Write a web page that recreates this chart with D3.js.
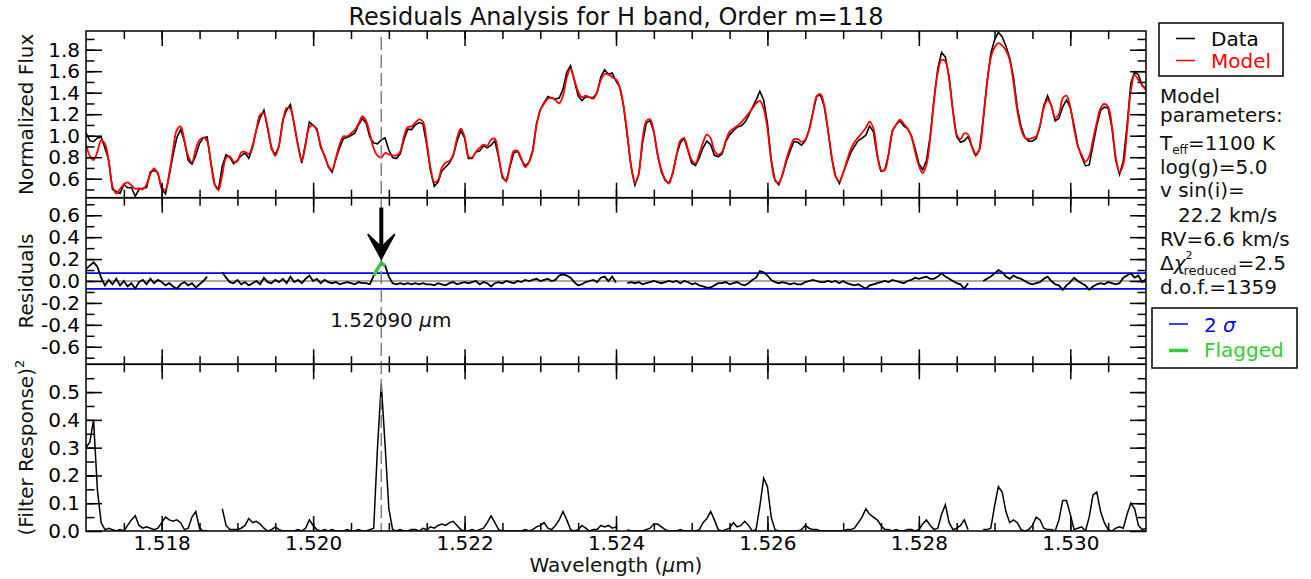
<!DOCTYPE html>
<html>
<head>
<meta charset="utf-8">
<script src="https://cdn.jsdelivr.net/npm/d3@7"></script>
<style>
body{margin:0;background:#fff;}
svg{font-family:"DejaVu Sans",sans-serif;}
</style>
</head>
<body>
<svg id="chart" width="1311" height="579"></svg>
<script>
// wavelength grid of the order (micron)
const waveStart=1.517, waveStep=0.00005;
// model spectrum
const model=[
0.917,0.814,0.774,0.849,0.957,0.926,0.762,0.529,0.461,0.504,
0.548,0.566,0.538,0.507,0.511,0.501,0.548,0.644,0.697,0.644,
0.514,0.498,0.653,0.870,1.053,1.087,0.957,0.811,0.755,0.876,
0.960,0.982,0.948,0.746,0.545,0.498,0.638,0.793,0.808,0.759,
0.762,0.845,0.849,0.830,0.911,1.056,1.196,1.208,1.072,0.895,
0.814,0.914,1.128,1.258,1.249,1.109,0.904,0.765,0.914,1.078,
1.097,1.044,0.911,0.808,0.721,0.680,0.793,0.917,0.994,0.994,
1.022,1.053,1.112,1.180,1.137,1.013,0.883,0.814,0.796,0.839,
0.827,0.817,0.817,0.852,0.994,1.081,1.087,1.121,1.152,1.131,
0.945,0.703,0.569,0.588,0.703,0.749,0.765,0.821,0.979,1.066,
0.991,0.808,0.799,0.849,0.889,0.917,0.907,0.963,0.973,0.808,
0.628,0.576,0.725,0.858,0.858,0.787,0.709,0.752,0.855,1.093,
1.239,1.298,1.345,1.351,1.332,1.301,1.373,1.540,1.621,1.521,
1.410,1.357,1.373,1.357,1.345,1.407,1.518,1.574,1.571,1.543,
1.524,1.450,1.276,1.013,0.718,0.560,0.647,0.963,1.137,1.152,
1.035,0.827,0.681,0.594,0.557,0.659,0.821,0.954,0.976,0.873,
0.774,0.743,0.833,0.938,1.010,0.976,0.858,0.824,0.849,0.954,
1.038,1.066,1.090,1.121,1.162,1.205,1.252,1.301,1.323,1.252,
1.066,0.768,0.591,0.563,0.647,0.780,0.889,0.966,0.969,0.942,
0.963,1.053,1.205,1.366,1.388,1.283,1.050,0.802,0.622,0.576,
0.653,0.768,0.870,0.942,0.985,1.028,1.075,1.131,1.066,0.833,
0.680,0.681,0.833,1.038,1.103,1.149,1.112,1.066,0.994,0.852,
0.721,0.653,0.728,0.976,1.320,1.587,1.704,1.692,1.524,1.230,
1.010,0.969,1.022,1.010,0.901,0.817,0.870,1.152,1.478,1.723,
1.822,1.862,1.841,1.794,1.704,1.493,1.233,1.062,0.982,0.969,
0.979,0.994,1.097,1.258,1.332,1.280,1.168,1.202,1.348,1.373,
1.270,1.066,0.904,0.824,0.759,0.808,0.963,1.124,1.255,1.295,
1.267,1.093,0.802,0.659,0.734,1.047,1.419,1.565,1.518,1.472,
1.422];
// observed spectrum (black)
const flux=[
1.027,0.954,0.944,0.979,0.987,0.886,0.772,0.499,0.481,0.464,
0.548,0.516,0.518,0.437,0.501,0.511,0.518,0.664,0.677,0.654,
0.504,0.458,0.633,0.820,0.983,1.057,0.947,0.771,0.735,0.816,
0.930,0.982,0.988,0.746,0.545,0.498,0.718,0.823,0.798,0.739,
0.772,0.815,0.839,0.790,0.891,1.056,1.166,1.238,1.062,0.875,
0.824,0.904,1.148,1.238,1.289,1.099,0.914,0.745,0.934,1.128,
1.097,1.064,0.891,0.818,0.711,0.660,0.783,0.887,0.974,0.984,
1.002,1.023,1.102,1.160,1.117,0.983,0.933,0.924,0.961,0.979,
0.867,0.797,0.787,0.832,0.964,1.061,1.057,1.101,1.122,1.111,
0.915,0.673,0.529,0.568,0.673,0.709,0.745,0.811,0.949,1.046,
0.981,0.788,0.789,0.849,0.859,0.907,0.887,0.913,0.953,0.798,
0.608,0.576,0.715,0.838,0.858,0.777,0.719,0.752,0.865,1.113,
1.239,1.308,1.365,1.351,1.342,1.351,1.433,1.590,1.651,1.511,
1.370,1.327,1.363,1.357,1.355,1.397,1.548,1.614,1.571,1.583,
1.509,1.450,1.276,0.993,0.708,0.540,0.637,0.933,1.117,1.142,
1.035,0.817,0.661,0.584,0.557,0.649,0.821,0.934,0.976,0.863,
0.744,0.723,0.793,0.888,0.950,0.916,0.818,0.804,0.829,0.944,
1.008,1.046,1.080,1.091,1.122,1.185,1.262,1.331,1.413,1.332,
1.116,0.778,0.581,0.543,0.637,0.760,0.859,0.946,0.939,0.912,
0.953,1.053,1.215,1.366,1.378,1.273,1.050,0.792,0.622,0.556,
0.653,0.748,0.840,0.902,0.955,0.978,1.005,1.091,1.036,0.813,
0.670,0.681,0.823,1.048,1.103,1.139,1.092,1.066,1.004,0.882,
0.741,0.683,0.768,0.996,1.340,1.627,1.774,1.732,1.544,1.230,
0.990,0.939,0.952,0.990,0.901,0.817,0.870,1.152,1.498,1.763,
1.892,1.962,1.921,1.834,1.724,1.543,1.263,1.082,0.982,0.949,
0.949,0.974,1.087,1.278,1.372,1.280,1.138,1.162,1.268,1.333,
1.260,1.096,0.904,0.804,0.719,0.728,0.913,1.094,1.235,1.265,
1.257,1.073,0.772,0.639,0.764,1.097,1.489,1.595,1.568,1.462,
1.442];
// squared matched-filter response, null where pixels are masked
const filterResp=[
0.30,0.32,0.40,0.15,0.03,0.005,0.01,0.005,0.0,0.005,
0.0,0.02,0.04,0.055,0.02,0.01,0.015,0.01,0.005,0.01,
0.03,0.05,0.04,0.035,0.04,0.03,0.005,0.01,0.05,0.07,
0.01,0.0,0.0,null,null,null,0.08,0.02,0.005,0.005,
0.005,0.01,0.02,0.045,0.03,0.035,0.025,0.01,0.0,0.005,
0.015,0.005,0.0,0.0,0.0,0.0,0.005,0.0,0.01,0.04,
0.02,0.005,0.0,0.005,0.0,0.005,0.0,0.0,0.0,0.005,
0.0,0.0,0.005,0.0,0.0,0.005,0.01,0.30,0.53,0.31,
0.08,0.005,0.0,0.005,0.0,0.0,0.005,0.005,0.0,0.01,
0.005,0.015,0.01,0.02,0.025,0.02,0.03,0.035,0.02,0.005,
0.0,0.0,0.005,0.0,0.005,0.01,0.03,0.055,0.03,0.005,
0.0,0.0,0.0,0.0,0.0,0.0,0.005,0.0,0.005,0.015,
0.02,0.03,0.01,0.005,0.02,0.04,0.07,0.04,0.005,0.0,
0.005,0.02,0.01,0.0,0.005,0.005,0.02,0.015,0.02,0.01,
0.015,null,null,0.005,0.0,0.0,0.0,0.0,0.005,0.01,
0.025,0.025,0.015,0.005,0.0,0.0,0.0,0.005,0.0,0.0,
0.0,0.0,0.005,0.03,0.045,0.07,0.04,0.005,0.0,0.005,
0.01,0.03,0.015,0.02,0.035,0.02,0.0,0.005,0.09,0.19,
0.16,0.05,0.005,0.0,0.0,0.0,0.0,0.0,0.0,0.005,
0.02,0.01,0.005,0.005,0.0,0.0,0.0,0.0,0.0,0.0,
0.0,0.005,0.005,0.01,0.03,0.05,0.08,0.06,0.05,0.04,
0.02,0.005,0.005,0.0,0.005,0.0,0.0,0.005,0.005,0.0,
0.005,0.025,0.04,0.02,0.005,0.01,0.06,0.095,0.03,0.005,
0.01,0.02,0.04,0.005,null,null,null,0.005,0.005,0.01,
0.09,0.16,0.14,0.07,0.03,0.04,0.03,0.005,0.0,0.005,
0.02,0.05,0.04,0.01,0.005,0.005,0.0,0.04,0.11,0.11,
0.06,0.005,0.01,0.015,0.0,0.05,0.13,0.14,0.07,0.03,
0.005,0.0,0.01,0.015,0.01,0.06,0.10,0.08,0.02,0.005,
0.01];
const gapRanges=[[1.51865,1.51875],[1.52405,1.52410],[1.52870,1.52880]];
const flagRange=[1.52080,1.52095];
const lineWave=1.5209;
const twoSigma=0.072;
const arrowTop=0.67, arrowTip=0.20;

const waveTicks=[1.518,1.520,1.522,1.524,1.526,1.528,1.530];
const fluxTicks=[0.6,0.8,1.0,1.2,1.4,1.6,1.8];
const residTicks=[-0.6,-0.4,-0.2,0.0,0.2,0.4,0.6];
const filterTicks=[0.0,0.1,0.2,0.3,0.4,0.5];
const waveMinor=d3.range(1.5175,1.5309,0.0005);
const fluxMinor=d3.range(0.5,1.95,0.1);
const residMinor=d3.range(-0.7,0.75,0.1);
const filterMinor=d3.range(0.05,0.6,0.05);

const svg=d3.select("#chart");
const left=86,right=1146;
const p1=[31,197.7],p2=[197.7,364.3],p3=[364.3,531];

const x=d3.scaleLinear().domain([1.517,1.531]).range([left,right]);
const yFlux=d3.scaleLinear().domain([0.4233,1.974]).range([p1[1],p1[0]]);
const yRes=d3.scaleLinear().domain([-0.76,0.76]).range([p2[1],p2[0]]);
const yFil=d3.scaleLinear().domain([0,0.6]).range([p3[1],p3[0]]);

const pts=model.map((m,i)=>({w:waveStart+i*waveStep,m:m,f:flux[i],r:flux[i]-m,q:filterResp[i]}));
const inGap=w=>gapRanges.some(g=>w>g[0]-1e-7&&w<g[1]+1e-7);

const defs=svg.append("defs");
[["c1",p1],["c2",p2],["c3",p3]].forEach(([id,p])=>{
    defs.append("clipPath").attr("id",id).append("rect")
        .attr("x",left).attr("y",p[0]).attr("width",right-left).attr("height",p[1]-p[0]);
});

// top panel: data and model
const g1=svg.append("g").attr("clip-path","url(#c1)");
g1.append("path").datum(pts)
    .attr("fill","none").attr("stroke","#000").attr("stroke-width",1.6)
    .attr("d",d3.line().x(d=>x(d.w)).y(d=>yFlux(d.f)));
g1.append("path").datum(pts)
    .attr("fill","none").attr("stroke","#ff0000").attr("stroke-width",1.8)
    .attr("d",d3.line().x(d=>x(d.w)).y(d=>yFlux(d.m)).curve(d3.curveCatmullRom));

// middle panel: residuals
const g2=svg.append("g").attr("clip-path","url(#c2)");
[twoSigma,-twoSigma].forEach(v=>{
    g2.append("line").attr("x1",left).attr("x2",right).attr("y1",yRes(v)).attr("y2",yRes(v))
        .attr("stroke","#0000ff").attr("stroke-width",1.6);
});
g2.append("line").attr("x1",left).attr("x2",right).attr("y1",yRes(0)).attr("y2",yRes(0))
    .attr("stroke","#8c8c8c").attr("stroke-width",1.6);
g2.append("path").datum(pts)
    .attr("fill","none").attr("stroke","#000").attr("stroke-width",1.8)
    .attr("d",d3.line().defined(d=>!inGap(d.w)).x(d=>x(d.w)).y(d=>yRes(d.r)));
g2.append("path").datum(pts.filter(d=>d.w>=flagRange[0]-1e-7&&d.w<=flagRange[1]+1e-7))
    .attr("fill","none").attr("stroke","#33cc33").attr("stroke-width",3.5)
    .attr("d",d3.line().x(d=>x(d.w)).y(d=>yRes(d.r)));

// bottom panel: filter response
const g3=svg.append("g").attr("clip-path","url(#c3)");
g3.append("path").datum(pts)
    .attr("fill","none").attr("stroke","#000").attr("stroke-width",1.5)
    .attr("d",d3.line().defined(d=>d.q!==null).x(d=>x(d.w)).y(d=>yFil(d.q)));

// flagged wavelength marker
svg.append("line").attr("x1",x(lineWave)).attr("x2",x(lineWave)).attr("y1",p1[0]+6).attr("y2",p3[1])
    .attr("stroke","#808080").attr("stroke-width",1.5).attr("stroke-dasharray","13,5");

// arrow
const ax=x(lineWave), at=yRes(arrowTip);
svg.append("line").attr("x1",ax).attr("x2",ax).attr("y1",yRes(arrowTop)).attr("y2",at-10)
    .attr("stroke","#000").attr("stroke-width",4);
svg.append("path")
    .attr("d",`M${ax},${at} L${ax-13.5},${at-25} L${ax},${at-12} L${ax+13.5},${at-25} Z`)
    .attr("fill","#000").attr("stroke","#000").attr("stroke-width",1.5).attr("stroke-linejoin","miter");

const lbl=svg.append("text").attr("x",ax+9.5).attr("y",326.5).attr("text-anchor","middle")
    .attr("font-size",20).attr("fill","#111");
lbl.append("tspan").text("1.52090 ");
lbl.append("tspan").attr("font-style","italic").text("\u03bc");
lbl.append("tspan").text("m");

// axes and frames
const fmt1=d=>d.toFixed(1);
function frame(y,p,major,minor,showX){
    const g=svg.append("g");
    const add=(axis,tx,ty)=>{
        const a=g.append("g").attr("transform",`translate(${tx},${ty})`).call(axis);
        a.attr("font-size",20).attr("font-family","DejaVu Sans");
        a.select(".domain").remove();
        a.selectAll(".tick line").attr("stroke","#000").attr("stroke-width",1.5);
        a.selectAll(".tick text").attr("fill","#000");
        return a;
    };
    add(d3.axisLeft(y).tickValues(major).tickSize(-16).tickPadding(6).tickFormat(fmt1),left,0);
    add(d3.axisLeft(y).tickValues(minor).tickSize(-8.5).tickFormat(""),left,0);
    add(d3.axisRight(y).tickValues(major).tickSize(-16).tickFormat(""),right,0);
    add(d3.axisRight(y).tickValues(minor).tickSize(-8.5).tickFormat(""),right,0);
    add(d3.axisTop(x).tickValues(waveTicks).tickSize(-15).tickFormat(""),0,p[0]);
    add(d3.axisTop(x).tickValues(waveMinor).tickSize(-8).tickFormat(""),0,p[0]);
    add(d3.axisBottom(x).tickValues(waveTicks).tickSize(-15).tickPadding(5)
        .tickFormat(showX?(d=>d.toFixed(3)):""),0,p[1]);
    add(d3.axisBottom(x).tickValues(waveMinor).tickSize(-8).tickFormat(""),0,p[1]);
    g.append("rect").attr("x",left).attr("y",p[0]).attr("width",right-left).attr("height",p[1]-p[0])
        .attr("fill","none").attr("stroke","#000").attr("stroke-width",1.5);
}
frame(yFlux,p1,fluxTicks,fluxMinor,false);
frame(yRes,p2,residTicks,residMinor,false);
frame(yFil,p3,filterTicks,filterMinor,true);

// titles
svg.append("text").attr("x",(left+right)/2).attr("y",25).attr("text-anchor","middle")
    .attr("font-size",24).attr("fill","#111").text("Residuals Analysis for H band, Order m=118");
const xt=svg.append("text").attr("x",(left+right)/2).attr("y",572).attr("text-anchor","middle")
    .attr("font-size",20).attr("fill","#111");
xt.append("tspan").text("Wavelength (");
xt.append("tspan").attr("font-style","italic").text("\u03bc");
xt.append("tspan").text("m)");

function ytitle(cy,build){
    const t=svg.append("text").attr("transform",`translate(33,${cy}) rotate(-90)`)
        .attr("text-anchor","middle").attr("font-size",20).attr("fill","#111");
    build(t);
}
ytitle((p1[0]+p1[1])/2,t=>t.text("Normalized Flux"));
ytitle((p2[0]+p2[1])/2,t=>t.text("Residuals"));
ytitle((p3[0]+p3[1])/2,t=>{
    t.append("tspan").text("(Filter Response)");
    t.append("tspan").attr("font-size",13).attr("dy",-9).text("2");
});

// legend 1
svg.append("rect").attr("x",1159).attr("y",23).attr("width",124).attr("height",53)
    .attr("fill","#fff").attr("stroke","#000").attr("stroke-width",1.5);
[["Data","#000",38.5,46],["Model","#ff0000",60.5,68]].forEach(([name,c,ly,ty])=>{
    svg.append("line").attr("x1",1176).attr("x2",1195).attr("y1",ly).attr("y2",ly)
        .attr("stroke",c).attr("stroke-width",1.5);
    svg.append("text").attr("x",1211).attr("y",ty).attr("font-size",20).attr("fill",c).text(name);
});

// model parameters
const px=1160;
const ptxt=(t,yy,xx)=>svg.append("text").attr("x",xx||px).attr("y",yy).attr("font-size",20).attr("fill","#111").text(t);
ptxt("Model",103);
ptxt("parameters:",122);
const te=svg.append("text").attr("x",px).attr("y",150).attr("font-size",20).attr("fill","#111");
te.append("tspan").text("T");
te.append("tspan").attr("font-size",12).attr("dy",4).text("eff");
te.append("tspan").attr("dy",-4).text("=1100 K");
ptxt("log(g)=5.0",174);
ptxt("v sin(i)=",197);
ptxt("22.2 km/s",222,1178);
ptxt("RV=6.6 km/s",246);
const dc=svg.append("text").attr("x",px).attr("y",270).attr("font-size",20).attr("fill","#111");
dc.append("tspan").text("\u0394");
dc.append("tspan").attr("font-style","italic").text("\u03c7");
const dw=dc.node().getComputedTextLength();
svg.append("text").attr("x",px+dw).attr("y",259).attr("font-size",11).attr("fill","#111").text("2");
const sub=svg.append("text").attr("x",px+dw-2).attr("y",275).attr("font-size",13).attr("fill","#111").text("reduced");
const sw=sub.node().getComputedTextLength();
ptxt("=2.5",270,px+dw-2+sw+1);
ptxt("d.o.f.=1359",294);

// legend 2
svg.append("rect").attr("x",1152).attr("y",308).attr("width",145).attr("height",60)
    .attr("fill","#fff").attr("stroke","#000").attr("stroke-width",1.5);
svg.append("line").attr("x1",1169).attr("x2",1188).attr("y1",324).attr("y2",324)
    .attr("stroke","#0000ff").attr("stroke-width",1.5);
const s2=svg.append("text").attr("x",1204).attr("y",331.5).attr("font-size",20).attr("fill","#0000ff");
s2.append("tspan").text("2 ");
s2.append("tspan").attr("font-style","italic").text("\u03c3");
svg.append("line").attr("x1",1169).attr("x2",1188).attr("y1",350.5).attr("y2",350.5)
    .attr("stroke","#33cc33").attr("stroke-width",3.5);
svg.append("text").attr("x",1204).attr("y",357).attr("font-size",20).attr("fill","#33cc33").text("Flagged");
</script>
</body>
</html>
